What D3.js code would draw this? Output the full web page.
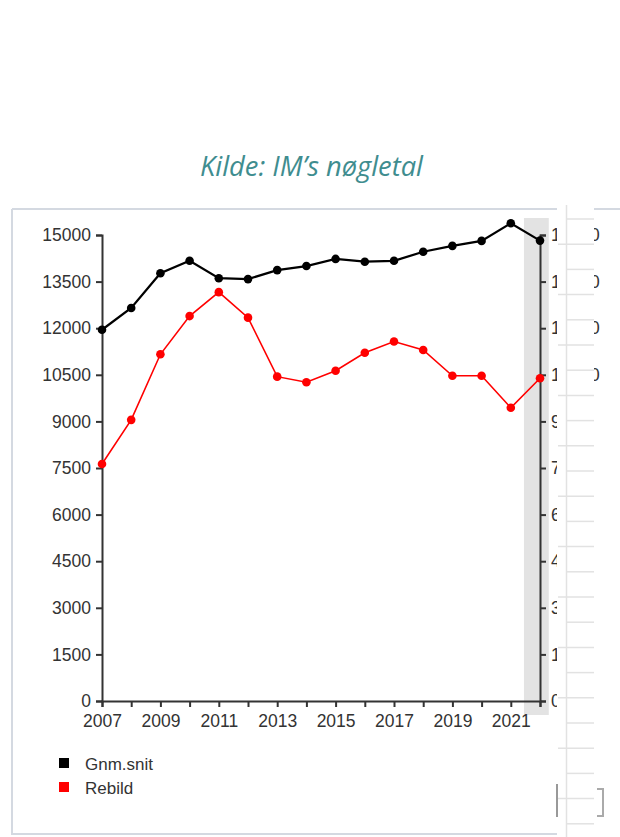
<!DOCTYPE html>
<html>
<head>
<meta charset="utf-8">
<script src="https://cdn.jsdelivr.net/npm/d3@7"></script>
<style>
  body { margin: 0; background: #fff; }
  svg { display: block; }
  .axis text { font-family: "Liberation Sans", Arial, sans-serif; font-size: 17.5px; fill: #333; }
  .axis path, .axis line { stroke: #333; stroke-width: 2px; }
  .legend text { font-family: "Liberation Sans", Arial, sans-serif; font-size: 17px; fill: #333; }
</style>
</head>
<body>
<svg></svg>
<script>
// Data
const years = [2007, 2008, 2009, 2010, 2011, 2012, 2013, 2014, 2015, 2016, 2017, 2018, 2019, 2020, 2021, 2022];
const gnmSnit = [11950, 12650, 13770, 14170, 13610, 13580, 13870, 14000, 14230, 14140, 14170, 14460, 14650, 14810, 15380, 14820];
const rebild = [7630, 9050, 11160, 12390, 13160, 12340, 10440, 10260, 10630, 11210, 11570, 11300, 10470, 10470, 9440, 10390];
const yTicks = [0, 1500, 3000, 4500, 6000, 7500, 9000, 10500, 12000, 13500, 15000];
const xLabelYears = [2007, 2009, 2011, 2013, 2015, 2017, 2019, 2021];
const seriesNames = ["Gnm.snit", "Rebild"];
const seriesColors = ["#000000", "#ff0000"];

const W = 620, H = 837;
const plot = { left: 102, right: 540, top: 235, bottom: 701 };

const svg = d3.select("svg").attr("width", W).attr("height", H);

// Set the ranges
const x = d3.scaleLinear().domain([2007, 2022]).range([plot.left, plot.right]);
const y = d3.scaleLinear().domain([0, 15000]).range([plot.bottom, plot.top]);

// Title
svg.append("text")
    .attr("x", 200)
    .attr("y", 176)
    .attr("textLength", 223)
    .attr("lengthAdjust", "spacingAndGlyphs")
    .style("font-family", "'Open Sans', sans-serif")
    .style("font-style", "italic")
    .style("font-size", "27px")
    .style("fill", "#3f8d8f")
    .text("Kilde: IM\u2019s nøgletal");

// Frame around the chart box
const frame = svg.append("g").attr("fill", "none").attr("stroke", "#d4d9e1").attr("stroke-width", 2);
frame.append("path").attr("d", "M12,209H558");
frame.append("path").attr("d", "M594,209H620");
frame.append("path").attr("d", "M12,209V834H557");

// Highlight band on the last year
svg.append("rect")
    .attr("x", x(2021.45))
    .attr("y", 218)
    .attr("width", x(2022.3) - x(2021.45))
    .attr("height", 497)
    .attr("fill", "#e3e3e3");

// Axes
svg.append("g")
    .attr("class", "axis")
    .attr("transform", "translate(" + plot.left + ",0)")
    .call(d3.axisLeft(y).tickValues(yTicks).tickSize(6).tickPadding(5).tickFormat(d3.format("d")));

svg.append("g")
    .attr("class", "axis")
    .attr("transform", "translate(" + plot.right + ",0)")
    .call(d3.axisRight(y).tickValues(yTicks).tickSize(6).tickPadding(5).tickFormat(d3.format("d")));

svg.append("g")
    .attr("class", "axis")
    .attr("transform", "translate(0," + plot.bottom + ")")
    .call(d3.axisBottom(x).tickValues(years).tickSize(6).tickPadding(8)
        .tickFormat(d => xLabelYears.includes(d) ? String(d) : ""));

// Lines and points
const line = d3.line()
    .x((d, i) => x(years[i]))
    .y(d => y(d));

[gnmSnit, rebild].forEach(function (values, s) {
    svg.append("path")
        .datum(values)
        .attr("fill", "none")
        .attr("stroke", seriesColors[s])
        .attr("stroke-width", s === 0 ? 2.2 : 1.6)
        .attr("d", line);
    svg.selectAll(".pt" + s)
        .data(values)
        .enter().append("circle")
        .attr("class", "pt" + s)
        .attr("cx", (d, i) => x(years[i]))
        .attr("cy", d => y(d))
        .attr("r", 4.3)
        .attr("fill", seriesColors[s]);
});

// Legend
const legend = svg.append("g").attr("class", "legend");
seriesNames.forEach(function (name, i) {
    legend.append("rect")
        .attr("x", 59).attr("y", 758 + i * 24)
        .attr("width", 10).attr("height", 10)
        .attr("fill", seriesColors[i]);
    legend.append("text")
        .attr("x", 85).attr("y", 770 + i * 24)
        .text(name);
});

// Overlapping fragment of a neighbouring panel on the right edge
const over = svg.append("g");
over.append("rect").attr("x", 557).attr("y", 200).attr("width", 37).attr("height", H - 200).attr("fill", "#fff");
over.selectAll("line.g")
    .data(d3.range(25))
    .enter().append("line")
    .attr("x1", k => k % 2 ? 558 : 566)
    .attr("x2", 594)
    .attr("y1", k => 219 + k * 25.2)
    .attr("y2", k => 219 + k * 25.2)
    .attr("stroke", "#e2e2e2")
    .attr("stroke-width", 1.5);
over.append("line")
    .attr("x1", 566.5).attr("x2", 566.5).attr("y1", 205).attr("y2", H)
    .attr("stroke", "#e2e2e2").attr("stroke-width", 1.5);
over.append("path")
    .attr("d", "M557,784V817")
    .attr("stroke", "#999").attr("stroke-width", 2).attr("fill", "none");
over.append("path")
    .attr("d", "M597,789H603V816H597")
    .attr("stroke", "#aaa").attr("stroke-width", 2).attr("fill", "none");
</script>
</body>
</html>
